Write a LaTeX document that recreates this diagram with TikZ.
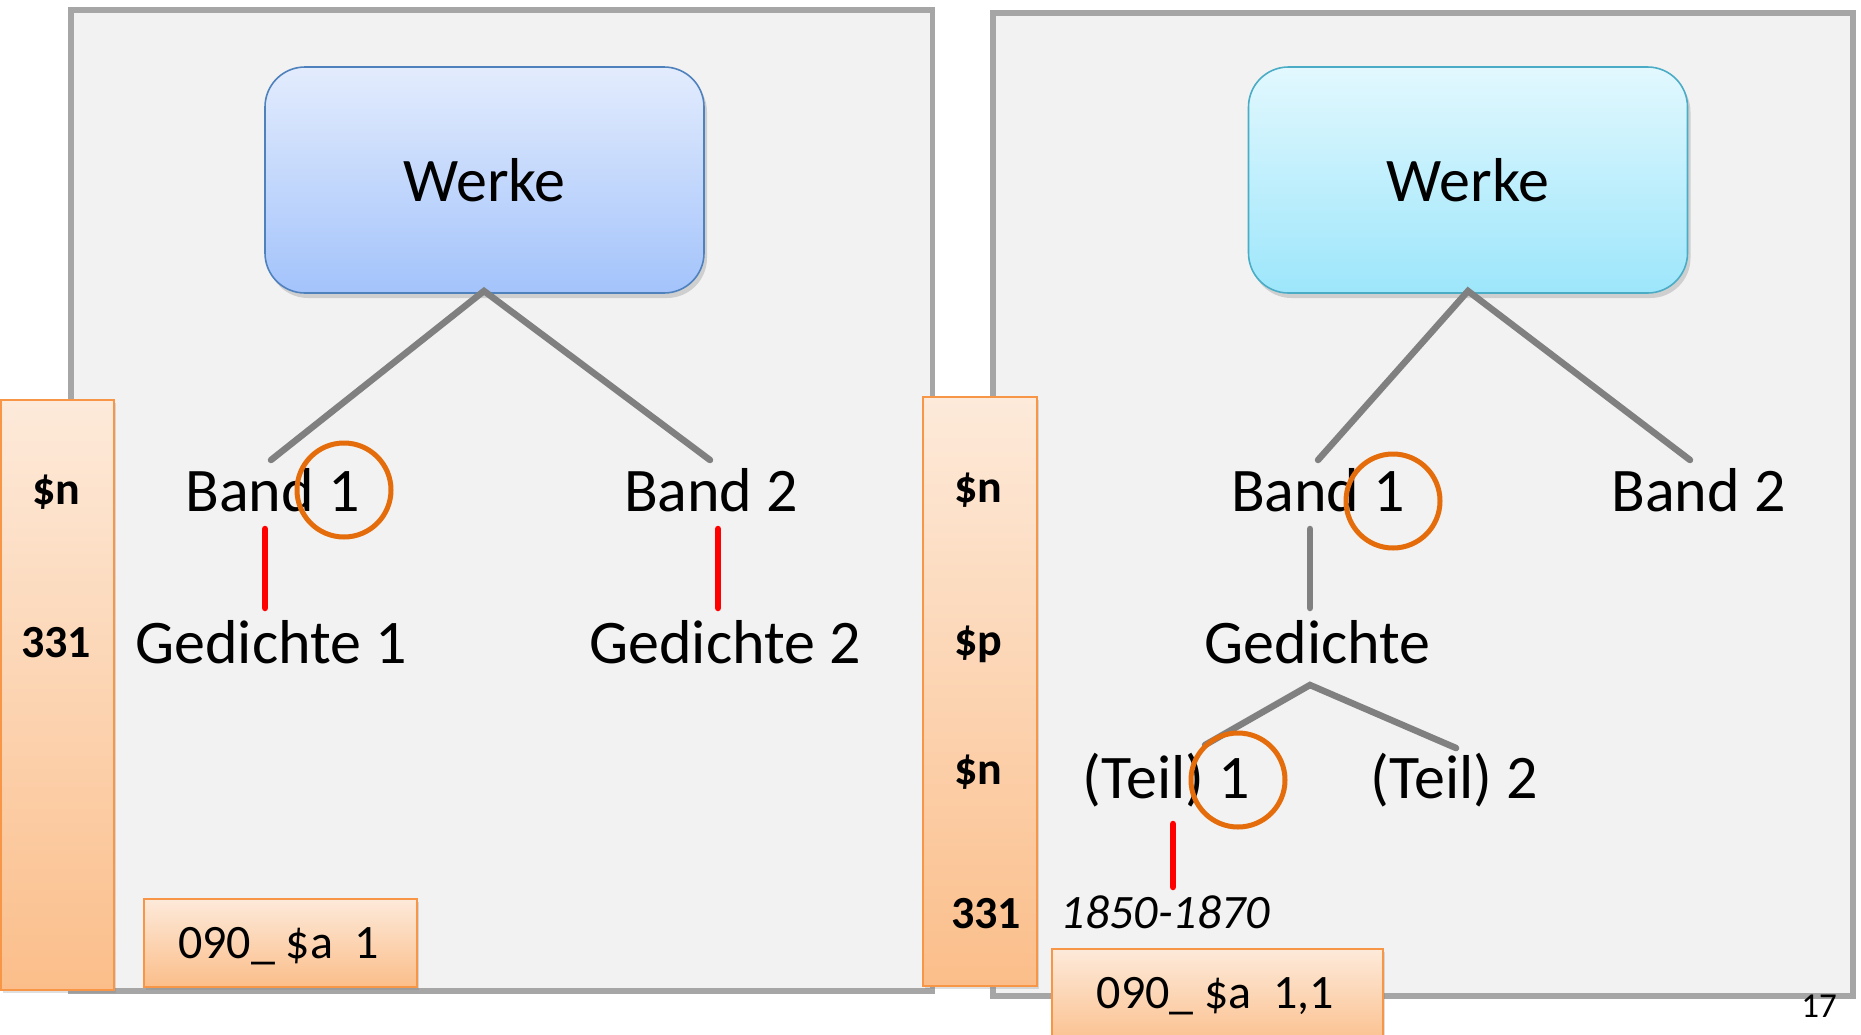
\documentclass[tikz,border=0pt]{standalone}
\usepackage{fontspec}
\setmainfont{Carlito}
\usetikzlibrary{shadows}
\definecolor{panelfill}{HTML}{F2F2F2}
\definecolor{panelgray}{HTML}{A6A6A6}
\definecolor{bluetop}{HTML}{E3ECFD}
\definecolor{bluebot}{HTML}{A3C3FB}
\definecolor{blueborder}{HTML}{4F81BD}
\definecolor{cyantop}{HTML}{E2F8FE}
\definecolor{cyanbot}{HTML}{9DE6FB}
\definecolor{cyanborder}{HTML}{4BACC6}
\definecolor{oratop}{HTML}{FDEADA}
\definecolor{orabot}{HTML}{FBBE8A}
\definecolor{oraborder}{HTML}{F79646}
\definecolor{circorange}{HTML}{E46C0A}
\definecolor{linegray}{HTML}{808080}
\definecolor{redline}{HTML}{FF0000}
\begin{document}
\begin{tikzpicture}[x=1pt,y=-1pt,
  panel/.style={draw=panelgray, fill=panelfill, line width=5.5pt, inner sep=0pt, anchor=north west},
  werkebox/.style={line width=1.6pt, rounded corners=40pt, minimum width=439pt, minimum height=226pt,
     inner sep=0pt, font=\fontsize{62}{74}\selectfont,
     drop shadow={shadow xshift=3pt, shadow yshift=-5pt, opacity=0.3}},
  werkeblue/.style={werkebox, draw=blueborder, top color=bluetop, bottom color=bluebot},
  werkecyan/.style={werkebox, draw=cyanborder, top color=cyantop, bottom color=cyanbot},
  tx/.style={inner sep=0pt, anchor=base, font=\fontsize{62}{74}\selectfont},
  side/.style={inner sep=0pt, anchor=base, font=\fontsize{46}{54}\selectfont\bfseries},
  small/.style={inner sep=0pt, anchor=base, font=\fontsize{48}{56}\selectfont},
  gline/.style={draw=linegray, line width=6.5pt, line cap=round},
  rline/.style={draw=redline, line width=6.5pt, line cap=round},
  ocirc/.style={circle, draw=circorange, line width=5pt, minimum size=94pt, inner sep=0pt},
  orabox/.style={draw=oraborder, line width=1.6pt, top color=oratop, bottom color=orabot,
     inner sep=0pt, anchor=north west,
     drop shadow={shadow xshift=2pt, shadow yshift=-3pt, opacity=0.25}}
]
\useasboundingbox (0,0) rectangle (1861,1034);
\fill[white] (0,0) rectangle (1861,1034);

% panels
\node[panel, minimum width=861.5pt, minimum height=981pt] (panelL) at (68,7) {};
\node[panel, minimum width=860pt, minimum height=983pt] (panelR) at (990,10) {};

% Werke boxes
\node[werkeblue] (wL) at (484.5,180) {Werke};
\node[werkecyan] (wR) at (1468,180) {Werke};

% left tree texts
\node[tx] (b1L) at (272.5,511) {Band 1};
\node[tx] (b2L) at (711,511) {Band 2};
\node[tx] (g1L) at (271,663) {Gedichte 1};
\node[tx] (g2L) at (725,663) {Gedichte 2};

% right tree texts
\node[tx] (b1R) at (1318,511) {Band 1};
\node[tx] (b2R) at (1698.5,511) {Band 2};
\node[tx] (gR) at (1317.5,663) {Gedichte};
\node[tx] (t1R) at (1166.5,798) {(Teil) 1};
\node[tx] (t2R) at (1454.5,798) {(Teil) 2};
\node[small, font=\fontsize{48}{56}\selectfont\itshape] (dates) at (1165.5,928) {1850-1870};

% connector end points
\coordinate (wLtip) at (484,291);
\coordinate (eb1L) at (271,460);
\coordinate (eb2L) at (710,460);
\coordinate (wRtip) at (1468,291);
\coordinate (eb1R) at (1318,460);
\coordinate (eb2R) at (1690,460);
\coordinate (gtip) at (1310,685);
\coordinate (et1R) at (1205,745);
\coordinate (et2R) at (1456,748);
\coordinate (rL1a) at (265,529);
\coordinate (rL1b) at (265,608);
\coordinate (rL2a) at (718,529);
\coordinate (rL2b) at (718,608);
\coordinate (vRa) at (1310,529);
\coordinate (vRb) at (1310,608);
\coordinate (rRa) at (1173,824);
\coordinate (rRb) at (1173,887);

% connectors
\draw[gline] (eb1L) -- (wLtip) -- (eb2L);
\draw[gline] (eb1R) -- (wRtip) -- (eb2R);
\draw[gline] (vRa) -- (vRb);
\draw[gline] (et1R) -- (gtip) -- (et2R);
\draw[rline] (rL1a) -- (rL1b);
\draw[rline] (rL2a) -- (rL2b);
\draw[rline] (rRa) -- (rRb);

% orange circles
\node[ocirc] (c1) at (344,490) {};
\node[ocirc] (c2) at (1393,501) {};
\node[ocirc] (c3) at (1238,780) {};

% orange bars and boxes
\node[orabox, minimum width=113pt, minimum height=590pt] (barL) at (0,399) {};
\node[orabox, minimum width=114pt, minimum height=589pt] (barR) at (922,396) {};
\node[orabox, minimum width=273pt, minimum height=88pt] (boxL) at (143,898) {};
\node[orabox, minimum width=331pt, minimum height=100pt] (boxR) at (1051,948) {};

% side labels
\node[side] (snL) at (56,504) {\$n};
\node[side] (s331L) at (56,657) {331};
\node[side] (snR1) at (978,502) {\$n};
\node[side] (spR) at (978,655) {\$p};
\node[side] (snR2) at (978,784) {\$n};
\node[side] (s331R) at (986,928) {331};

% box texts
\node[small] (codeL) at (278.5,958) {090\_ \$a\hspace{0.45em}1};
\node[small] (codeR) at (1215.5,1008) {090\_ \$a\hspace{0.45em}1,1};

% page number
\node[inner sep=0pt, anchor=base, font=\fontsize{35}{42}\selectfont] (pnum) at (1819,1017) {17};
\end{tikzpicture}
\end{document}
